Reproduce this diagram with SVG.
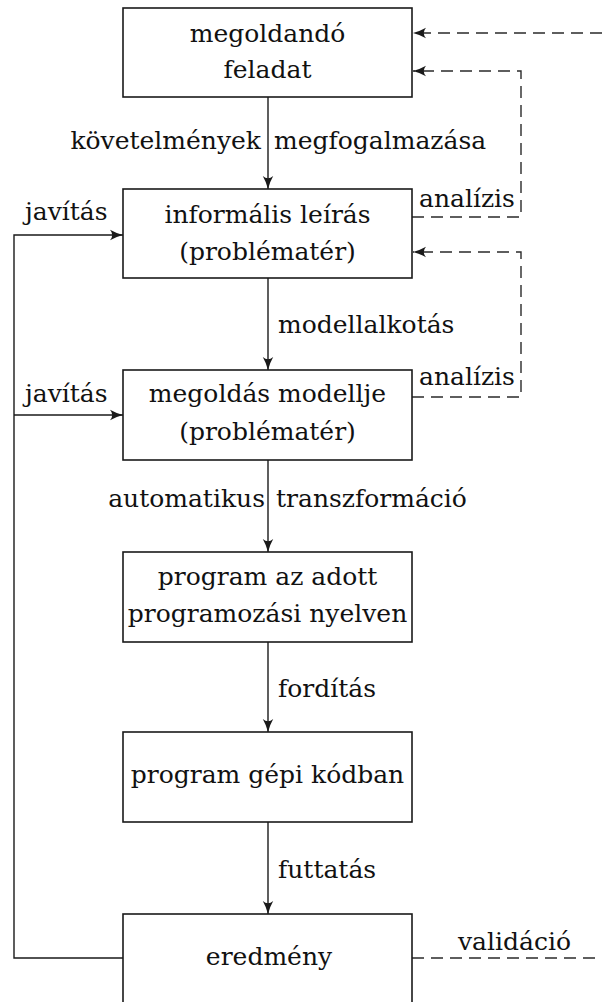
<svg xmlns="http://www.w3.org/2000/svg" width="602" height="1002" viewBox="0 0 602 1002">
<style>
  .box { fill: #fff; stroke: #1a1a1a; stroke-width: 1.6; }
  .t { font-family: "DejaVu Serif", "Liberation Serif", serif; font-size: 25px; fill: #111; }
  .m { text-anchor: middle; }
  .e { text-anchor: end; }
  .ln { fill: none; stroke: #1a1a1a; stroke-width: 1.4; }
  .dash { fill: none; stroke: #2a2a2a; stroke-width: 1.4; stroke-dasharray: 12 7; }
</style>
<defs>
  <marker id="ah" markerUnits="userSpaceOnUse" viewBox="-14 -7 15 14" refX="0" refY="0" markerWidth="15" markerHeight="14" orient="auto">
    <path d="M0,0 Q-7,-1.8 -13,-5.2 Q-8.5,0 -13,5.2 Q-7,1.8 0,0 Z" fill="#1a1a1a" stroke="none"/>
  </marker>
</defs>
<rect width="602" height="1002" fill="#fff"/>

<g id="connectors">
  <line class="ln" x1="268" y1="97" x2="268" y2="189" marker-end="url(#ah)"/>
  <line class="ln" x1="268" y1="278" x2="268" y2="370" marker-end="url(#ah)"/>
  <line class="ln" x1="268" y1="460" x2="268" y2="552" marker-end="url(#ah)"/>
  <line class="ln" x1="268" y1="642" x2="268" y2="732" marker-end="url(#ah)"/>
  <line class="ln" x1="268" y1="822" x2="268" y2="914" marker-end="url(#ah)"/>
  <polyline class="ln" points="123,958 14,958 14,235 123,235" marker-end="url(#ah)"/>
  <line class="ln" x1="14" y1="415" x2="123" y2="415" marker-end="url(#ah)"/>
  <polyline class="dash" points="412,217 521,217 521,71 413,71" marker-end="url(#ah)"/>
  <polyline class="dash" points="412,397 521,397 521,252 413,252" marker-end="url(#ah)"/>
  <line class="dash" x1="602" y1="33" x2="413" y2="33" marker-end="url(#ah)"/>
  <line class="dash" x1="412" y1="958" x2="602" y2="958"/>
  <g id="edge-labels">
    <text class="t e" x="261" y="149">követelmények</text>
    <text class="t" x="274" y="149">megfogalmazása</text>
    <text class="t" x="278" y="333">modellalkotás</text>
    <text class="t e" x="265" y="507">automatikus</text>
    <text class="t" x="276" y="507">transzformáció</text>
    <text class="t" x="278" y="697">fordítás</text>
    <text class="t" x="278" y="878">futtatás</text>
    <text class="t" x="458" y="950">validáció</text>
    <text class="t" x="25" y="220">javítás</text>
    <text class="t" x="25" y="402">javítás</text>
    <text class="t" x="419" y="207">analízis</text>
    <text class="t" x="419" y="385">analízis</text>
  </g>
</g>

<g id="node-feladat">
  <rect class="box" x="123" y="8" width="289" height="89"/>
  <text class="t m" x="267.5" y="42">megoldandó</text>
  <text class="t m" x="267.5" y="78">feladat</text>
</g>
<g id="node-informalis">
  <rect class="box" x="123" y="189" width="289" height="89"/>
  <text class="t m" x="267.5" y="223">informális leírás</text>
  <text class="t m" x="267.5" y="260">(problématér)</text>
</g>
<g id="node-modell">
  <rect class="box" x="123" y="370" width="289" height="90"/>
  <text class="t m" x="267.5" y="402">megoldás modellje</text>
  <text class="t m" x="267.5" y="440">(problématér)</text>
</g>
<g id="node-program">
  <rect class="box" x="123" y="552" width="289" height="90"/>
  <text class="t m" x="267.5" y="585">program az adott</text>
  <text class="t m" x="267.5" y="622">programozási nyelven</text>
</g>
<g id="node-gepikod">
  <rect class="box" x="123" y="732" width="289" height="90"/>
  <text class="t m" x="267.5" y="783">program gépi kódban</text>
</g>
<g id="node-eredmeny">
  <rect class="box" x="123" y="914" width="289" height="92"/>
  <text class="t m" x="269" y="965">eredmény</text>
</g>
</svg>
